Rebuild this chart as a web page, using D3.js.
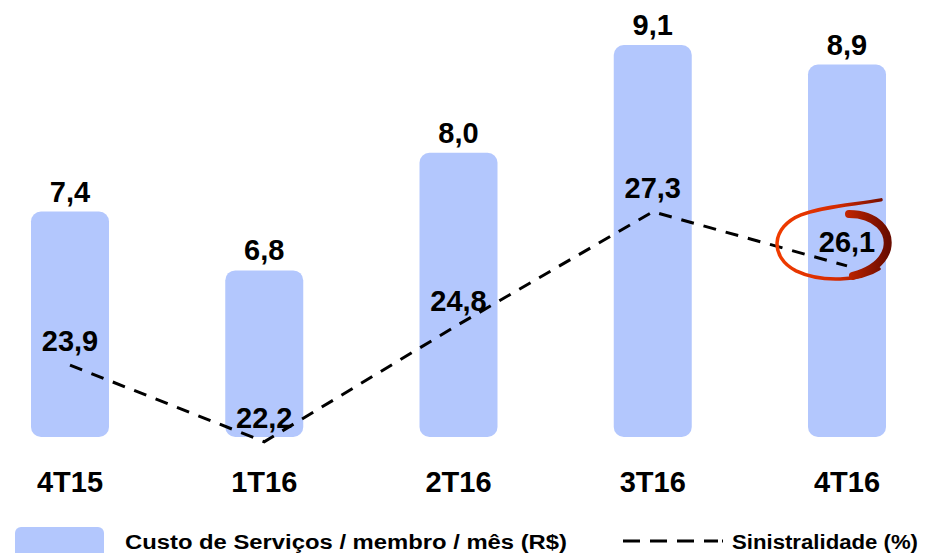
<!DOCTYPE html>
<html>
<head>
<meta charset="utf-8">
<script src="https://cdn.jsdelivr.net/npm/d3@7/dist/d3.min.js"></script>
<style>
  body { margin: 0; background: #fff; }
  text { font-family: 'Liberation Sans', Arial, sans-serif; font-weight: bold; fill: #000; }
</style>
</head>
<body>
<div id="chart"></div>
<script>
var quarters = ['4T15', '1T16', '2T16', '3T16', '4T16'];
var custo = [7.4, 6.8, 8.0, 9.1, 8.9];
var sinistralidade = [23.9, 22.2, 24.8, 27.3, 26.1];
var legendLabels = ['Custo de Serviços / membro / mês (R$)', 'Sinistralidade (%)'];

var width = 930;
var height = 553;
var baseY = 437;
var barWidth = 78;

var fmt = function(v) {
  return d3.format('.1f')(v).replace('.', ',');
};

var svg = d3.select('#chart').append('svg')
  .attr('width', width)
  .attr('height', height);

// scales
var xScale = d3.scalePoint()
  .domain(quarters)
  .range([70, 847]);

var yBar = d3.scaleLinear()
  .domain([5.1, 9.1])
  .range([baseY, 45]);

var yLine = d3.scaleLinear()
  .domain([20, 30])
  .range([541, 90]);

var data = quarters.map(function(q, i) {
  return { q: q, custo: custo[i], sin: sinistralidade[i] };
});

// bars
svg.selectAll('.bar')
  .data(data)
  .enter()
  .append('rect')
  .attr('class', 'bar')
  .attr('x', function(d) { return xScale(d.q) - barWidth / 2; })
  .attr('y', function(d) { return yBar(d.custo); })
  .attr('width', barWidth)
  .attr('height', function(d) { return baseY - yBar(d.custo); })
  .attr('rx', 10)
  .attr('ry', 10)
  .style('fill', '#b3c7fd');

// bar value labels
svg.selectAll('.bar-label')
  .data(data)
  .enter()
  .append('text')
  .attr('x', function(d) { return xScale(d.q); })
  .attr('y', function(d) { return yBar(d.custo) - 10; })
  .attr('text-anchor', 'middle')
  .style('font-size', '29px')
  .text(function(d) { return fmt(d.custo); });

// category labels
svg.selectAll('.cat')
  .data(quarters)
  .enter()
  .append('text')
  .attr('x', function(d) { return xScale(d); })
  .attr('y', 492)
  .attr('text-anchor', 'middle')
  .style('font-size', '29px')
  .text(function(d) { return d; });

// sinistralidade line
var line = d3.line()
  .x(function(d) { return xScale(d.q); })
  .y(function(d) { return yLine(d.sin); });

svg.append('path')
  .datum(data)
  .attr('d', line)
  .style('fill', 'none')
  .style('stroke', '#000')
  .style('stroke-width', 3)
  .style('stroke-dasharray', '13, 10');

svg.selectAll('.line-label')
  .data(data)
  .enter()
  .append('text')
  .attr('x', function(d) { return xScale(d.q); })
  .attr('y', function(d) { return yLine(d.sin) - 14; })
  .attr('text-anchor', 'middle')
  .style('font-size', '29px')
  .text(function(d) { return fmt(d.sin); });

// highlight ring around the last value
var defs = svg.append('defs');
var grad = defs.append('linearGradient')
  .attr('id', 'ringGrad')
  .attr('gradientUnits', 'userSpaceOnUse')
  .attr('x1', -57).attr('y1', 0)
  .attr('x2', 57).attr('y2', 0);
grad.append('stop').attr('offset', '0%').attr('stop-color', '#f23d00');
grad.append('stop').attr('offset', '55%').attr('stop-color', '#d42a00');
grad.append('stop').attr('offset', '100%').attr('stop-color', '#6a0c00');

var last = data[data.length - 1];
var ring = svg.append('g')
  .attr('transform', 'translate(' + (xScale(last.q) - 16) + ',' + (yLine(last.sin) - 23) + ')');

ring.append('path')
  .attr('d', 'M 50,-43 C 20,-38 -10,-36 -30,-28 C -60,-16 -62,14 -35,28 C -10,40 30,38 48,26')
  .style('fill', 'none')
  .style('stroke', 'url(#ringGrad)')
  .style('stroke-width', 3.5)
  .style('stroke-linecap', 'round');

ring.append('path')
  .attr('d', 'M 18,-29 C 45,-29 60,-12 56,6 C 52,20 40,28 22,33')
  .style('fill', 'none')
  .style('stroke', 'url(#ringGrad)')
  .style('stroke-width', 8)
  .style('stroke-linecap', 'round');

// legend
svg.append('rect')
  .attr('x', 15)
  .attr('y', 527)
  .attr('width', 89)
  .attr('height', 40)
  .attr('rx', 6)
  .style('fill', '#b3c7fd');

svg.append('text')
  .attr('x', 125)
  .attr('y', 549)
  .attr('textLength', 442)
  .attr('lengthAdjust', 'spacingAndGlyphs')
  .style('font-size', '20px')
  .text(legendLabels[0]);

svg.append('line')
  .attr('x1', 623)
  .attr('x2', 723)
  .attr('y1', 541)
  .attr('y2', 541)
  .style('stroke', '#000')
  .style('stroke-width', 3)
  .style('stroke-dasharray', '17, 10, 17, 10, 17, 10, 14, 4, 1');

svg.append('text')
  .attr('x', 732)
  .attr('y', 549)
  .attr('textLength', 186)
  .attr('lengthAdjust', 'spacingAndGlyphs')
  .style('font-size', '20px')
  .text(legendLabels[1]);
</script>
</body>
</html>
